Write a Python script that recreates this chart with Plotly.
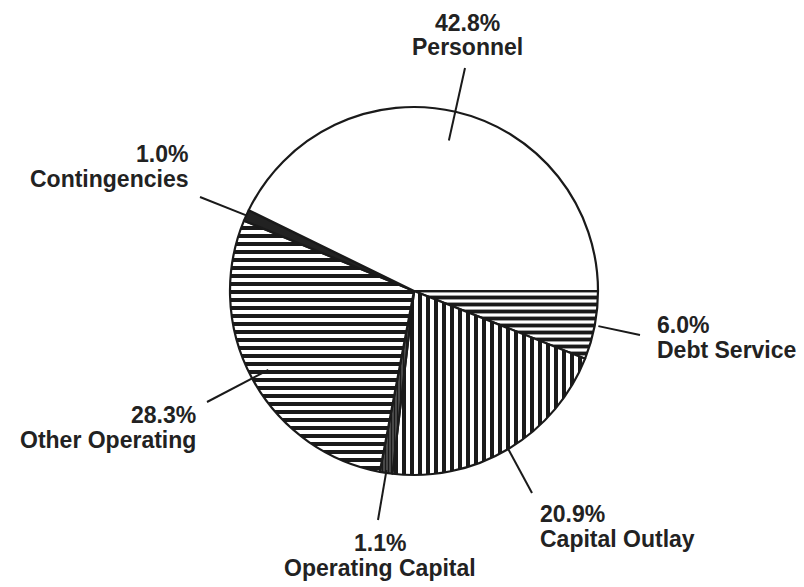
import math
import plotly.graph_objects as go

# Budget shares by category, counter-clockwise from 3 o'clock
categories = ["Personnel", "Contingencies", "Other Operating",
              "Operating Capital", "Capital Outlay", "Debt Service"]
shares = [42.8, 1.0, 28.3, 1.1, 20.9, 6.0]
share_labels = ["42.8%", "1.0%", "28.3%", "1.1%", "20.9%", "6.0%"]

W, H = 804, 587
CX, CY, R = 414, 291, 184  # pie centre and radius in pixels

INK = "#1a1a1a"
TEXT = "#222222"

# Hatching per slice (same order as categories)
hatch_shape = ["", "", "-", "|", "|", "-"]
hatch_size = [8, 8, 8, 3, 8, 7]
hatch_solidity = [0.5, 0.5, 0.5, 0.6, 0.5, 0.55]
fills = ["white", "#222222", "white", "#666666", "white", "white"]

# Plotly lays slices out clockwise from the rotation angle, so feed the
# sequence reversed to get the counter-clockwise order starting at 3 o'clock.
rev = slice(None, None, -1)
fig = go.Figure(go.Pie(
    labels=categories[rev],
    values=shares[rev],
    sort=False,
    direction="clockwise",
    rotation=90,
    textinfo="none",
    hoverinfo="label+percent",
    showlegend=False,
    marker=dict(
        colors=fills[rev],
        pattern=dict(shape=hatch_shape[rev], size=hatch_size[rev],
                     solidity=hatch_solidity[rev], fgcolor=INK,
                     fgopacity=1, fillmode="overlay"),
        line=dict(color=INK, width=2.2),
    ),
    domain=dict(x=[(CX - R) / W, (CX + R) / W],
                y=[(H - CY - R) / H, (H - CY + R) / H]),
))

# Label layout: text anchor, alignment, line centres, leader end, tip radius
label_style = {
    "Personnel":         dict(x=467, xanchor="center", y=(23, 47), end=(465, 68), rf=0.84),
    "Contingencies":     dict(x=190, xanchor="right", y=(154, 179), end=(200, 197), rf=1.0),
    "Other Operating":   dict(x=198, xanchor="right", y=(415, 440), end=(207, 402), rf=0.9),
    "Operating Capital": dict(x=380, xanchor="center", y=(543, 568), end=(378, 520), rf=0.985),
    "Capital Outlay":    dict(x=538, xanchor="left", y=(514, 539), end=(532, 493), rf=0.985),
    "Debt Service":      dict(x=655, xanchor="left", y=(325, 350), end=(640, 335), rf=1.02),
}

def px_to_paper(px, py):
    return px / W, 1 - py / H

annotations, shapes = [], []
total = sum(shares)
start = 0.0
for name, val, lab in zip(categories, shares, share_labels):
    mid = (start + val / 2) / total * 2 * math.pi
    start += val
    st = label_style[name]
    tip = (CX + st["rf"] * R * math.cos(mid), CY - st["rf"] * R * math.sin(mid))
    x0, y0 = px_to_paper(*st["end"])
    x1, y1 = px_to_paper(*tip)
    shapes.append(dict(type="line", xref="paper", yref="paper",
                       x0=x0, y0=y0, x1=x1, y1=y1,
                       line=dict(color=INK, width=2)))
    for line_text, ly in zip((lab, name), st["y"]):
        ax, ay = px_to_paper(st["x"], ly)
        annotations.append(dict(
            text=f"<b>{line_text}</b>", x=ax, y=ay, xref="paper", yref="paper",
            xanchor=st["xanchor"], yanchor="middle", showarrow=False,
            font=dict(family="Liberation Sans, Arial, sans-serif", size=23, color=TEXT),
        ))

fig.update_layout(
    width=W, height=H,
    margin=dict(l=0, r=0, t=0, b=0),
    paper_bgcolor="white", plot_bgcolor="white",
    annotations=annotations, shapes=shapes,
)

fig.write_html("out.html")
